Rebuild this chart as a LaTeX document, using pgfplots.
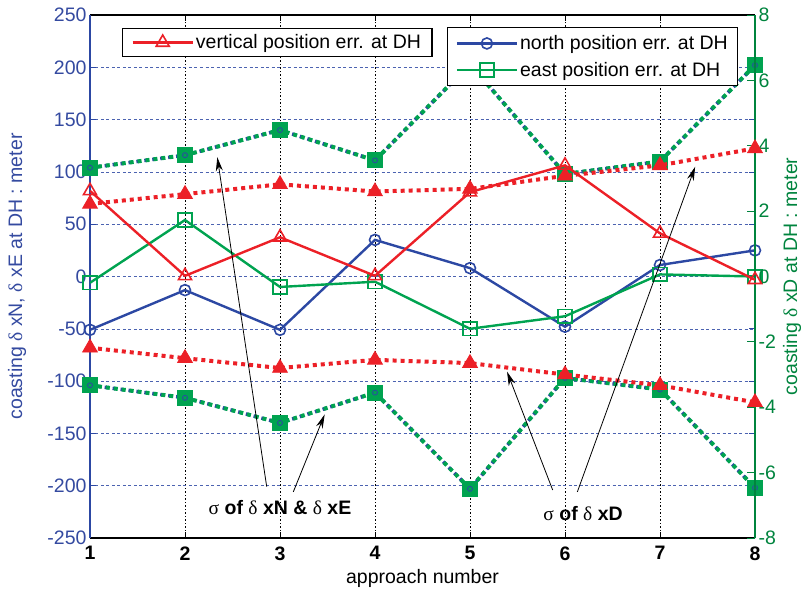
\documentclass[border=0pt]{standalone}
\usepackage{pgfplots}
\pgfplotsset{compat=1.18}
\usepackage{pgfplotstable}
\usepackage{fontspec}
\setmainfont{Liberation Sans}
\newfontfamily\symfont{Liberation Serif}
\usetikzlibrary{arrows.meta}

\definecolor{nblue}{RGB}{44,72,163}
\definecolor{tblue}{RGB}{52,74,160}
\definecolor{egreen}{RGB}{0,163,80}
\definecolor{vred}{RGB}{236,32,39}
\definecolor{rgreen}{RGB}{0,132,62}

\newcommand{\fs}{\fontsize{19.5}{23}\selectfont}
\newcommand{\dl}{{\symfont\mdseries δ}}
\newcommand{\sg}{{\symfont\mdseries σ}}

% horizontal errors (left axis, meter)
\pgfplotstableread{
x  north  east  sigup  siglo
1  -51    -6    104    -104
2  -13    54    116    -116
3  -51    -10   140    -140
4   35    -5    111    -111
5    8    -50   203    -203
6  -48    -38    98     -97
7   11     2    110    -108
8   25     0    202    -202
}\horiz

% vertical error (right axis, meter)
\pgfplotstableread{
x  vert   sigup  siglo
1   2.62  2.22   -2.18
2   0.02  2.52   -2.50
3   1.20  2.82   -2.80
4   0.02  2.60   -2.55
5   2.58  2.68   -2.65
6   3.40  3.08   -3.00
7   1.32  3.40   -3.33
8  -0.10  3.92   -3.85
}\vertd

\pgfplotsset{
  longleg/.style={legend image code/.code={%
    \draw[mark repeat=2,mark phase=2,line width=2.4pt] plot coordinates {(0pt,0pt) (30pt,0pt) (60pt,0pt)};}},
  dotline/.style={line width=4pt, dash pattern=on 4pt off 4pt},
}

\begin{document}
\begin{tikzpicture}
\useasboundingbox (-90pt,-57pt) rectangle (711pt,538pt);

\begin{axis}[
  at={(0,0)}, anchor=south west,
  scale only axis, width=665pt, height=523pt,
  xmin=1, xmax=8, ymin=-250, ymax=250,
  xtick={1,...,8}, ytick distance=50,
  separate axis lines,
  x axis line style={black, line width=1.6pt},
  y axis line style={nblue, line width=1.6pt},
  tick align=inside, major tick length=6pt,
  xtick style={black, line width=0.8pt},
  ytick style={nblue, line width=0.8pt},
  xmajorgrids, ymajorgrids,
  x grid style={black, dash pattern=on 1.5pt off 2pt, line width=0.6pt},
  y grid style={nblue!85, dash pattern=on 3pt off 2.5pt, line width=0.6pt},
  /pgf/number format/assume math mode=true,
  yticklabel style={tblue, font=\fs},
  xticklabel style={black, font=\fs\bfseries, yshift=-5pt},
  xlabel={approach number},
  xlabel style={font=\fs, at={(axis description cs:0.5,0)}, anchor=center, yshift=-40pt},
  ylabel={coasting \dl{} xN, \dl{} xE at DH : meter},
  ylabel style={font=\fs, tblue, at={(axis description cs:-0.1098,0.5)}, anchor=center},
  legend style={at={(0.537,0.977)}, anchor=north west, font=\fs, draw=black,
    line width=1.2pt, fill=white, inner xsep=8pt, inner ysep=6pt, row sep=7pt},
  legend cell align=left,
  longleg,
]
% one-sigma envelopes of north and east errors
\addplot[forget plot, nblue, line width=3.5pt, dash pattern=on 4pt off 4pt, dash phase=1.2pt] table[x=x,y=sigup]{\horiz};
\addplot[forget plot, nblue, line width=3.5pt, dash pattern=on 4pt off 4pt, dash phase=1.2pt] table[x=x,y=siglo]{\horiz};
\addplot[forget plot, egreen, dotline, mark=square*, mark size=7.5pt, mark options={solid, line width=0.8pt}] table[x=x,y=sigup]{\horiz};
\addplot[forget plot, egreen, dotline, mark=square*, mark size=7.5pt, mark options={solid, line width=0.8pt}] table[x=x,y=siglo]{\horiz};
\addplot[forget plot, only marks, nblue, mark=o, mark size=2.5pt, mark options={line width=0.8pt}] table[x=x,y=sigup]{\horiz};
\addplot[forget plot, only marks, nblue, mark=o, mark size=2.5pt, mark options={line width=0.8pt}] table[x=x,y=siglo]{\horiz};
% errors
\addplot[nblue, line width=2.4pt, mark=o, mark size=5.5pt, mark options={line width=1.6pt}] table[x=x,y=north]{\horiz};
\addlegendentry{north position err. at DH}
\addplot[egreen, line width=2.4pt, mark=square, mark size=6.8pt, mark options={line width=1.6pt}] table[x=x,y=east]{\horiz};
\addlegendentry{east position err. at DH}
\end{axis}

\begin{axis}[
  at={(0,0)}, anchor=south west,
  scale only axis, width=665pt, height=523pt,
  xmin=1, xmax=8, ymin=-8, ymax=8,
  ytick distance=2,
  axis x line=none, axis y line*=right,
  y axis line style={rgreen, line width=1.6pt, -},
  tick align=inside, major tick length=8pt,
  ytick style={rgreen, line width=0.8pt},
  /pgf/number format/assume math mode=true,
  yticklabel style={rgreen, font=\fs},
  ylabel={coasting \dl{} xD at DH : meter},
  ylabel style={font=\fs, rgreen, at={(axis description cs:1.0556,0.5)}, anchor=center},
  legend style={at={(0.048,0.975)}, anchor=north west, font=\fs, draw=black,
    line width=1.2pt, fill=white, inner xsep=9pt, inner ysep=4pt},
  legend cell align=left,
  longleg,
]
% one-sigma envelope of vertical error
\addplot[forget plot, vred, dotline, mark=triangle*, mark size=8.5pt, mark options={solid, line width=0.8pt}] table[x=x,y=sigup]{\vertd};
\addplot[forget plot, vred, dotline, mark=triangle*, mark size=8.5pt, mark options={solid, line width=0.8pt}] table[x=x,y=siglo]{\vertd};
\addplot[vred, line width=2.4pt, mark=triangle, mark size=7.5pt, mark options={line width=1.6pt}] table[x=x,y=vert]{\vertd};
\addlegendentry{vertical position err. at DH}

% annotations
\draw[-{Stealth[length=14pt,width=7pt]}, line width=0.8pt] (2.86,-6.43) -- (2.34,3.65);
\draw[-{Stealth[length=14pt,width=7pt]}, line width=0.8pt] (3.14,-6.59) -- (3.47,-4.22);
\node[font=\fs\bfseries] at (3.0,-7.08) {\sg{} of \dl{} xN \& \dl{} xE};
\draw[-{Stealth[length=14pt,width=7pt]}, line width=0.8pt] (5.87,-6.53) -- (5.39,-2.91);
\draw[-{Stealth[length=14pt,width=7pt]}, line width=0.8pt] (6.13,-6.59) -- (7.37,3.36);
\node[font=\fs\bfseries] at (6.19,-7.24) {\sg{} of \dl{} xD};
\end{axis}
\end{tikzpicture}
\end{document}
